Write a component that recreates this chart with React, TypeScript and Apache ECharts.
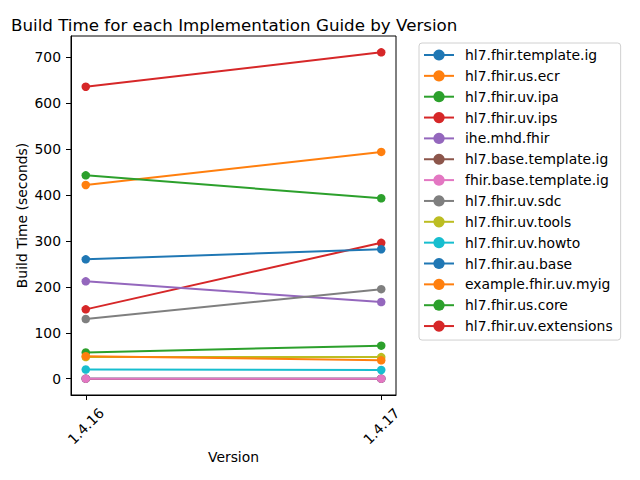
import React, { useEffect, useRef } from "react";
import * as echarts from "echarts";

const versions = ["1.4.16", "1.4.17"];
const guides = [
  "hl7.fhir.template.ig",
  "hl7.fhir.us.ecr",
  "hl7.fhir.uv.ipa",
  "hl7.fhir.uv.ips",
  "ihe.mhd.fhir",
  "hl7.base.template.ig",
  "fhir.base.template.ig",
  "hl7.fhir.uv.sdc",
  "hl7.fhir.uv.tools",
  "hl7.fhir.uv.howto",
  "hl7.fhir.au.base",
  "example.fhir.uv.myig",
  "hl7.fhir.us.core",
  "hl7.fhir.uv.extensions",
];
const buildTimes: number[][] = [
  [0, 0],
  [422, 494],
  [57, 72],
  [151, 296],
  [212, 167],
  [0, 0],
  [0, 0],
  [130, 195],
  [47, 47],
  [20, 19],
  [260, 282],
  [49, 40],
  [443, 393],
  [636, 711],
];
const yTicks = [0, 100, 200, 300, 400, 500, 600, 700];
const colors = [
  "#1f77b4", "#ff7f0e", "#2ca02c", "#d62728", "#9467bd",
  "#8c564b", "#e377c2", "#7f7f7f", "#bcbd22", "#17becf",
];

const FONT = "DejaVu Sans";

export default function App() {
  const ref = useRef<HTMLDivElement>(null);
  useEffect(() => {
    if (!ref.current) return;
    const chart = echarts.init(ref.current, null, { renderer: "svg" });
    const all = buildTimes.flat();
    const dMin = Math.min(...all);
    const dMax = Math.max(...all);
    const pad = (dMax - dMin) * 0.05;
    const xIdx = versions.map((_, i) => i);
    chart.setOption({
      animation: false,
      title: {
        text: "Build Time for each Implementation Guide by Version",
        left: 6,
        top: 11,
        textStyle: { fontFamily: FONT, fontSize: 16.7, fontWeight: "normal", color: "#000" },
      },
      legend: {
        orient: "vertical",
        left: 419,
        top: 43,
        itemWidth: 30,
        itemHeight: 14,
        itemGap: 6.85,
        padding: [5, 8, 7, 4],
        borderColor: "#d0d0d0",
        borderWidth: 1,
        borderRadius: 3,
        textStyle: { fontFamily: FONT, fontSize: 13.9, color: "#000", padding: [0, 0, 0, 6] },
        data: guides,
      },
      grid: {
        left: 71,
        top: 36,
        width: 325,
        height: 359,
        show: true,
        borderColor: "#000",
        borderWidth: 1,
        backgroundColor: "transparent",
      },
      xAxis: {
        type: "value",
        min: -0.05,
        max: 1.05,
        name: "Version",
        nameLocation: "middle",
        nameGap: 55,
        nameMoveOverlap: false,
        nameTextStyle: { fontFamily: FONT, fontSize: 13.9, color: "#000" },
        axisLine: { show: true, onZero: false, lineStyle: { color: "#000" } },
        axisTick: { show: true, length: 5, customValues: xIdx, lineStyle: { color: "#000" } },
        splitLine: { show: false },
        axisLabel: {
          customValues: xIdx,
          formatter: (v: number) => versions[Math.round(v)] ?? "",
          rotate: 45,
          align: "center",
          verticalAlign: "middle",
          margin: 31,
          fontFamily: FONT,
          fontSize: 13.9,
          color: "#000",
        },
      },
      yAxis: {
        type: "value",
        min: dMin - pad,
        max: dMax + pad,
        name: "Build Time (seconds)",
        nameLocation: "middle",
        nameGap: 42,
        nameMoveOverlap: false,
        nameTextStyle: { fontFamily: FONT, fontSize: 13.9, color: "#000" },
        axisLine: { show: true, onZero: false, lineStyle: { color: "#000" } },
        axisTick: { show: true, length: 5, customValues: yTicks, lineStyle: { color: "#000" } },
        splitLine: { show: false },
        axisLabel: {
          customValues: yTicks,
          margin: 10,
          fontFamily: FONT,
          fontSize: 13.9,
          color: "#000",
        },
      },
      series: guides.map((g, i) => ({
        name: g,
        type: "line",
        data: buildTimes[i].map((v, j) => [j, v]),
        symbol: "circle",
        symbolSize: 8.5,
        showSymbol: true,
        lineStyle: { width: 2, color: colors[i % 10] },
        itemStyle: { color: colors[i % 10] },
        z: 2 + i,
      })),
    });
    return () => chart.dispose();
  }, []);
  return <div ref={ref} style={{ width: 640, height: 480, position: "absolute", left: 0, top: 0 }} />;
}
